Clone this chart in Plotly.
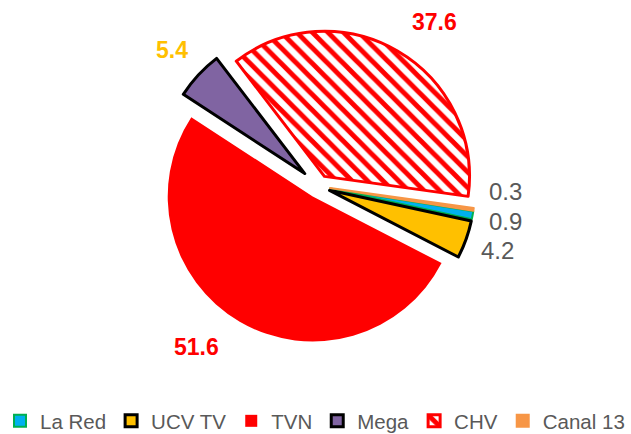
import math
import plotly.graph_objects as go

labels = ["La Red", "UCV TV", "TVN", "Mega", "CHV", "Canal 13"]
values = [0.9, 4.2, 51.6, 5.4, 37.6, 0.3]

# styles
fill_colors = ["#00B0F0", "#FFC000", "#FF0000", "#8064A2", "#FFFFFF", "#F79646"]
line_colors = ["#00B050", "#000000", "#FF0000", "#000000", "#FF0000", "#F79646"]
line_widths = [2, 3, 0, 3, 3, 2]
pulls = [0.08, 0.08, 0.08, 0.13, 0.08, 0.08]
patterns = ["", "", "", "", "\\", ""]
label_colors = ["#595959", "#595959", "#FF0000", "#FFC000", "#FF0000", "#595959"]
label_bold = [False, False, True, True, True, False]
label_sizes = [24, 24, 23, 23, 23, 24]
# label placement: radial factor (x radius) and angular nudge (deg, clockwise)
label_radius = [1.31, 1.31, 1.39, 1.38, 1.385, 1.29]
label_nudge = [0, 0, 7, 0, 5, -7]

FONT = "Liberation Sans, Arial, sans-serif"

W, H = 631, 434
cx, cy, half = 318.6, 186.4, 163.9
ROT = 99
max_pull = max(pulls)
r = 2 * half / (2 + 2 * max_pull)

fig = go.Figure(go.Pie(
    labels=labels,
    values=values,
    sort=False,
    direction="clockwise",
    rotation=ROT,
    pull=pulls,
    marker=dict(
        colors=fill_colors,
        line=dict(color=line_colors, width=line_widths),
        pattern=dict(shape=patterns, fgcolor="#FF0000", bgcolor="#FFFFFF",
                     size=11, solidity=0.45),
    ),
    textinfo="none",
    hoverinfo="label+value",
    domain=dict(x=[(cx - half) / W, (cx + half) / W],
                y=[1 - (cy + half) / H, 1 - (cy - half) / H]),
))

# data labels placed along each slice's mid-angle
total = sum(values)
start = ROT
for i, v in enumerate(values):
    span = 360.0 * v / total
    mid = math.radians(start + span / 2 + label_nudge[i])
    start += span
    d = r * label_radius[i]
    px = cx + d * math.sin(mid)
    py = cy - d * math.cos(mid)
    txt = f"{v}"
    if label_bold[i]:
        txt = f"<b>{txt}</b>"
    fig.add_annotation(
        x=px / W, y=1 - py / H, xref="paper", yref="paper",
        text=txt, showarrow=False, xanchor="center", yanchor="middle",
        font=dict(family=FONT, size=label_sizes[i], color=label_colors[i]),
    )

fig.update_layout(
    width=W, height=H, autosize=False,
    margin=dict(l=0, r=0, t=0, b=0, autoexpand=False),
    paper_bgcolor="white", plot_bgcolor="white",
    showlegend=True,
    legend=dict(orientation="h", x=0, xanchor="left", y=1 - 421 / H, yanchor="middle",
                font=dict(family=FONT, size=20.5, color="#595959"),
                itemwidth=30, traceorder="normal", bgcolor="rgba(0,0,0,0)"),
)

fig.write_html(
    "out.html",
    config={"displayModeBar": False},
    post_script="document.body.style.margin='0';document.body.style.overflow='hidden';",
)
